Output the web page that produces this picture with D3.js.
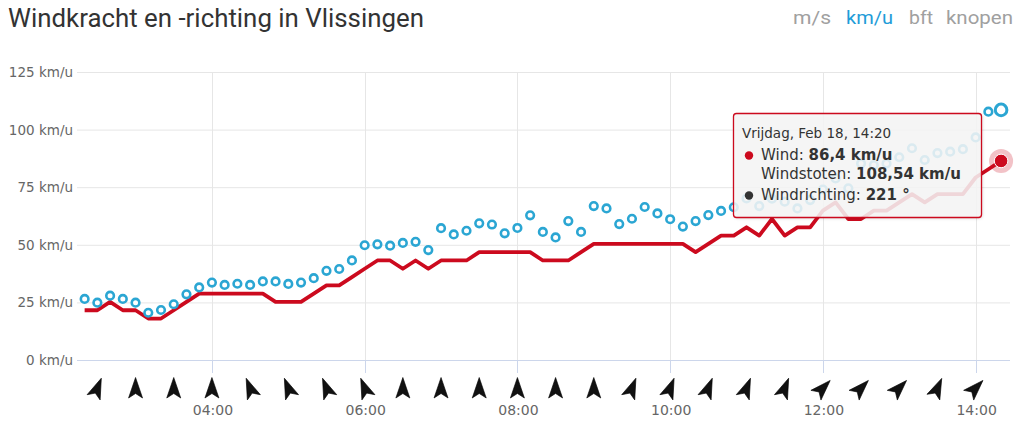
<!DOCTYPE html>
<html><head><meta charset="utf-8">
<script src="https://cdn.jsdelivr.net/npm/d3@7"></script>
<style>
html,body{margin:0;padding:0;background:#fff;}
svg{display:block;}
</style></head><body>
<svg id="c" width="1023" height="427"></svg>
<script>
// ---- data ----
const times = ["02:20","02:30","02:40","02:50","03:00","03:10","03:20","03:30","03:40","03:50",
  "04:00","04:10","04:20","04:30","04:40","04:50","05:00","05:10","05:20","05:30","05:40","05:50",
  "06:00","06:10","06:20","06:30","06:40","06:50","07:00","07:10","07:20","07:30","07:40","07:50",
  "08:00","08:10","08:20","08:30","08:40","08:50","09:00","09:10","09:20","09:30","09:40","09:50",
  "10:00","10:10","10:20","10:30","10:40","10:50","11:00","11:10","11:20","11:30","11:40","11:50",
  "12:00","12:10","12:20","12:30","12:40","12:50","13:00","13:10","13:20","13:30","13:40","13:50",
  "14:00","14:10","14:20"];
const windKmh = [21.6,21.6,25.2,21.6,21.6,18,18,21.6,25.2,28.8,
  28.8,28.8,28.8,28.8,28.8,25.2,25.2,25.2,28.8,32.4,32.4,36,
  39.6,43.2,43.2,39.6,43.2,39.6,43.2,43.2,43.2,46.8,46.8,46.8,
  46.8,46.8,43.2,43.2,43.2,46.8,50.4,50.4,50.4,50.4,50.4,50.4,
  50.4,50.4,46.8,50.4,54,54,57.6,54,61.2,54,57.6,57.6,
  64.8,68.4,61.2,61.2,64.8,64.8,68.4,72,68.4,72,72,72,
  79.2,82.8,86.4];
const gustKmh = [26.5,24.9,27.9,26.5,24.9,20.5,21.7,24.2,28.5,31.5,
  33.6,32.6,33.1,32.6,34.1,34.1,33.0,33.6,35.5,38.7,39.5,43.2,
  49.8,50.2,49.6,50.8,51.3,47.7,57.2,54.5,56.1,59.3,58.8,55.0,
  57.3,62.8,55.6,53.2,60.3,55.6,66.8,65.8,59.0,61.3,66.4,63.6,
  61.1,57.9,60.3,62.9,64.7,66.3,70.1,66.8,70.0,68.7,65.8,69.4,
  74.0,78.8,74.5,85.3,84.6,85.3,88.0,91.9,86.8,89.8,90.4,91.5,
  96.6,107.8,108.54];
const arrowTimes = ["02:30","03:00","03:30","04:00","04:30","05:00","05:30","06:00",
  "06:30","07:00","07:30","08:00","08:30","09:00","09:30","10:00",
  "10:30","11:00","11:30","12:00","12:30","13:00","13:30","14:00"];
const arrowDirs = [202,180,180,180,158,158,158,158,
  180,180,180,180,180,180,202,202,
  202,202,202,224,224,224,204,224];
const yTicks = [0,25,50,75,100,125];
const xTickLabels = ["04:00","06:00","08:00","10:00","12:00","14:00"];
const xDomain = ["02:14","14:27"];
const units = ["m/s","km/u","bft","knopen"];
const activeUnit = "km/u";
const title = "Windkracht en -richting in Vlissingen";
const tooltipHeader = "Vrijdag, Feb 18, 14:20";
const tooltipDir = 221;

// ---- helpers ----
const toMin = s => { const [h,m] = s.split(":").map(Number); return h*60+m; };
const fmt = v => String(v).replace(".", ",");

const RED = "#cc0a1e", BLUE = "#2ba6d3";
const svg = d3.select("#c");

const x = d3.scaleLinear().domain(xDomain.map(toMin)).range([77,1010]);
const y = d3.scaleLinear().domain([0,125]).range([360,72]);

const defs = svg.append("defs");
const f = defs.append("filter").attr("id","sh").attr("x","-10%").attr("y","-10%").attr("width","130%").attr("height","140%");
f.append("feDropShadow").attr("dx",1).attr("dy",1).attr("stdDeviation",1.5).attr("flood-color","#000").attr("flood-opacity",0.18);

const headFont = "'Roboto','Liberation Sans',sans-serif";
// title
svg.append("text").attr("x",8).attr("y",27)
  .attr("font-family",headFont)
  .attr("font-size",25).attr("fill","#333")
  .attr("textLength",416).attr("lengthAdjust","spacingAndGlyphs")
  .text(title);

// unit toggles
const unitPos = [[793,38],[846,47],[909,24],[946,67]];
units.forEach((u,i)=>{
  svg.append("text").attr("x",unitPos[i][0]).attr("y",24)
    .attr("font-family",headFont)
    .attr("font-size",19).attr("fill", u===activeUnit ? "#1f9cd8" : "#a0a0a0")
    .attr("textLength",unitPos[i][1]).attr("lengthAdjust","spacingAndGlyphs")
    .text(u);
});

// grid
const g = svg.append("g");
g.selectAll(".hg").data(yTicks.filter(d=>d>0)).enter().append("line")
  .attr("x1",77).attr("x2",1010).attr("y1",d=>y(d)+0.5).attr("y2",d=>y(d)+0.5)
  .attr("stroke","#e6e6e6").attr("stroke-width",1);
g.selectAll(".vg").data(xTickLabels).enter().append("line")
  .attr("x1",d=>Math.round(x(toMin(d)))+0.5).attr("x2",d=>Math.round(x(toMin(d)))+0.5)
  .attr("y1",72).attr("y2",360).attr("stroke","#e6e6e6");

// y labels
g.selectAll(".yl").data(yTicks).enter().append("text")
  .attr("x",73).attr("y",d=>y(d)+5).attr("text-anchor","end")
  .attr("font-family","'DejaVu Sans',sans-serif").attr("font-size",13.5).attr("fill","#666")
  .text(d=>d+" km/u");

// x axis
g.append("line").attr("x1",77).attr("x2",1010).attr("y1",360.5).attr("y2",360.5).attr("stroke","#ccd6eb");
g.selectAll(".xt").data(xTickLabels).enter().append("line")
  .attr("x1",d=>Math.round(x(toMin(d)))+0.5).attr("x2",d=>Math.round(x(toMin(d)))+0.5)
  .attr("y1",360).attr("y2",373).attr("stroke","#ccd6eb");
g.selectAll(".xl").data(xTickLabels).enter().append("text")
  .attr("x",d=>x(toMin(d))+1).attr("y",415).attr("text-anchor","middle")
  .attr("font-family","'DejaVu Sans',sans-serif").attr("font-size",14).attr("fill","#666")
  .text(d=>d);

// direction arrows
g.selectAll(".arr").data(arrowTimes).enter().append("path")
  .attr("d","M0,-10.5 L7,10 L0,5.5 L-7,10 Z")
  .attr("fill","#111").attr("stroke","#000").attr("stroke-width",0.6).attr("stroke-linejoin","round")
  .attr("transform",(d,i)=>`translate(${x(toMin(d))},388) rotate(${arrowDirs[i]-180})`);

// wind line
const line = d3.line().x((d,i)=>x(toMin(times[i]))).y(d=>y(d));
svg.append("path").datum(windKmh).attr("d",line)
  .attr("fill","none").attr("stroke",RED).attr("stroke-width",3.8).attr("stroke-linejoin","round");

// gust markers
svg.selectAll(".gu").data(gustKmh).enter().append("circle")
  .attr("cx",(d,i)=>x(toMin(times[i]))).attr("cy",d=>y(d)).attr("r",3.8)
  .attr("fill","#fff").attr("stroke",BLUE).attr("stroke-width",2.6);

// hover state at last point
const li = times.length-1;
const lx = x(toMin(times[li]));
svg.append("circle").attr("cx",lx).attr("cy",y(gustKmh[li])).attr("r",5.8)
  .attr("fill","#fff").attr("stroke",BLUE).attr("stroke-width",3);
svg.append("circle").attr("cx",lx).attr("cy",y(windKmh[li])).attr("r",12)
  .attr("fill",RED).attr("opacity",0.25);
svg.append("circle").attr("cx",lx).attr("cy",y(windKmh[li])).attr("r",6.8)
  .attr("fill",RED).attr("stroke","#fff").attr("stroke-width",1);

// tooltip
const tt = svg.append("g");
tt.append("rect").attr("x",733.5).attr("y",113.5).attr("width",248).attr("height",104).attr("rx",3)
  .attr("fill","rgba(247,247,247,0.85)").attr("filter","url(#sh)");
tt.append("rect").attr("x",733.5).attr("y",113.5).attr("width",248).attr("height",104).attr("rx",3)
  .attr("fill","none").attr("stroke",RED).attr("stroke-width",1.3);
const ff = "'DejaVu Sans',sans-serif";
tt.append("text").attr("x",742).attr("y",138).attr("font-family",ff).attr("font-size",13.5).attr("fill","#333").text(tooltipHeader);
tt.append("circle").attr("cx",749).attr("cy",155.5).attr("r",4.2).attr("fill",RED);
let t1 = tt.append("text").attr("x",761).attr("y",160).attr("font-family",ff).attr("font-size",15).attr("fill","#333");
t1.append("tspan").text("Wind: ");
t1.append("tspan").attr("font-weight","bold").text(fmt(windKmh[li])+" km/u");
let t2 = tt.append("text").attr("x",761).attr("y",179).attr("font-family",ff).attr("font-size",15).attr("fill","#333");
t2.append("tspan").text("Windstoten: ");
t2.append("tspan").attr("font-weight","bold").text(fmt(gustKmh[li])+" km/u");
tt.append("circle").attr("cx",749).attr("cy",195.5).attr("r",4.2).attr("fill","#333");
let t3 = tt.append("text").attr("x",761).attr("y",200).attr("font-family",ff).attr("font-size",15).attr("fill","#333");
t3.append("tspan").text("Windrichting: ");
t3.append("tspan").attr("font-weight","bold").text(tooltipDir+" °");
</script>
</body></html>
